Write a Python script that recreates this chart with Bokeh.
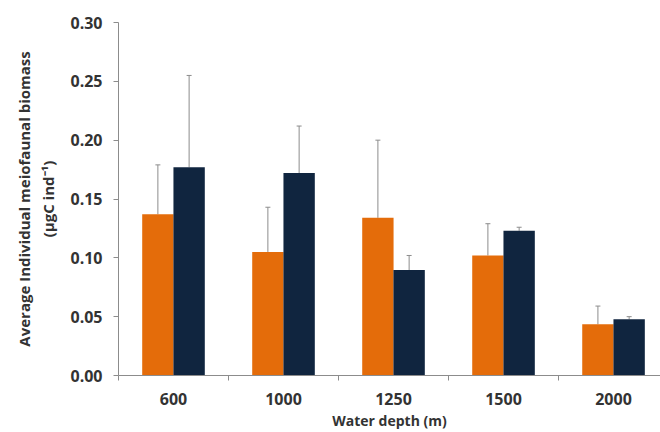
from bokeh.plotting import figure
from bokeh.models import (Range1d, FixedTicker, ColumnDataSource, Whisker, TeeHead,
                          CustomJSTickFormatter)
from bokeh.embed import file_html
from bokeh.resources import INLINE

depths = ["600", "1000", "1250", "1500", "2000"]
series_a = [0.137, 0.105, 0.134, 0.102, 0.0435]
series_a_err = [0.042, 0.038, 0.066, 0.027, 0.0155]
series_b = [0.177, 0.172, 0.0896, 0.123, 0.0477]
series_b_err = [0.078, 0.040, 0.0124, 0.003, 0.0023]
y_ticks = [0.0, 0.05, 0.10, 0.15, 0.20, 0.25, 0.30]

ORANGE = "#E46C0A"
NAVY = "#10253F"
AXIS = "#8C8C8C"
TEXT = "#333333"
FONT = "Open Sans"

n = len(depths)
centers = [i + 0.5 for i in range(n)]
off = 0.142
bw = 0.285

p = figure(width=660, height=432, output_backend="svg", toolbar_location=None,
           x_range=Range1d(0, 4.927), y_range=Range1d(0, 0.30),
           min_border_left=118, min_border_right=0, min_border_top=22,
           min_border_bottom=56)
p.outline_line_color = None
p.xgrid.visible = False
p.ygrid.visible = False

src_a = ColumnDataSource(dict(x=[c - off for c in centers], top=series_a,
                              upper=[v + e for v, e in zip(series_a, series_a_err)]))
src_b = ColumnDataSource(dict(x=[c + off for c in centers], top=series_b,
                              upper=[v + e for v, e in zip(series_b, series_b_err)]))

p.vbar(x="x", top="top", width=bw, source=src_a, fill_color=ORANGE, line_color=None)
p.vbar(x="x", top="top", width=bw, source=src_b, fill_color=NAVY, line_color=None)

for src in (src_a, src_b):
    w = Whisker(base="x", lower="top", upper="upper", source=src, dimension="height",
                line_color=AXIS, line_width=1, lower_head=None,
                upper_head=TeeHead(size=5, line_color=AXIS, line_width=1))
    p.add_layout(w)

# X axis
xa = p.xaxis[0]
xa.ticker = FixedTicker(ticks=centers, minor_ticks=[0, 1, 2, 3, 4])
xa.major_label_overrides = {c: d for c, d in zip(centers, depths)}
xa.major_tick_out = 0
xa.major_tick_in = 0
xa.minor_tick_out = 5
xa.minor_tick_in = 0
xa.minor_tick_line_color = AXIS
xa.axis_line_color = AXIS
xa.major_label_text_font = FONT
xa.major_label_text_font_style = "bold"
xa.major_label_text_font_size = "16px"
xa.major_label_text_color = TEXT
xa.major_label_standoff = 12
xa.axis_label = "Water depth (m)"
xa.axis_label_text_font = FONT
xa.axis_label_text_font_style = "bold"
xa.axis_label_text_font_size = "14px"
xa.axis_label_text_color = TEXT
xa.axis_label_standoff = 3

# Y axis
ya = p.yaxis[0]
ya.ticker = FixedTicker(ticks=y_ticks, minor_ticks=[])
ya.formatter = CustomJSTickFormatter(code="return tick.toFixed(2);")
ya.major_tick_out = 5
ya.major_tick_in = 0
ya.major_tick_line_color = AXIS
ya.axis_line_color = AXIS
ya.major_label_text_font = FONT
ya.major_label_text_font_style = "bold"
ya.major_label_text_font_size = "16px"
ya.major_label_text_color = TEXT
ya.major_label_standoff = 11
ya.axis_label = "Average Individual meiofaunal biomass\n(\u00b5gC ind\u207b\u00b9)"
ya.axis_label_text_font = FONT
ya.axis_label_text_font_style = "bold"
ya.axis_label_text_font_size = "15px"
ya.axis_label_text_color = TEXT
ya.axis_label_text_align = "center"
ya.axis_label_standoff = 9

open("out.html", "w").write(file_html(p, INLINE))
